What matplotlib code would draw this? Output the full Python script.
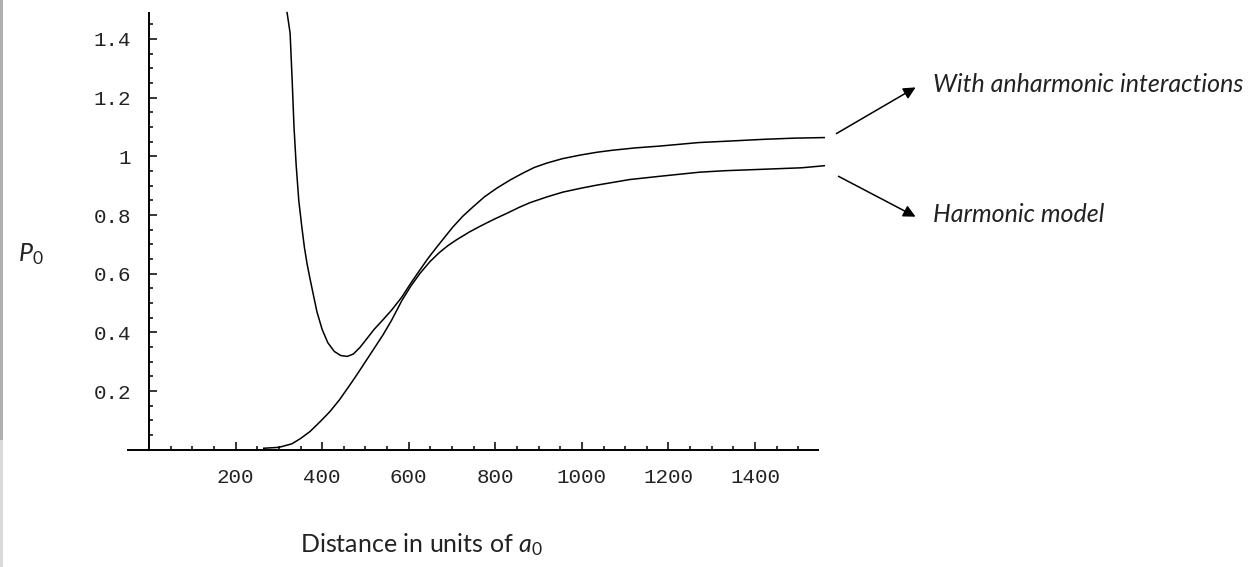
import numpy as np
import matplotlib
matplotlib.use('Agg')
import matplotlib.pyplot as plt
from matplotlib.ticker import FixedLocator, FuncFormatter
from matplotlib.patches import Rectangle

plt.rcParams['font.family'] = 'Lato'
plt.rcParams['mathtext.fontset'] = 'custom'
plt.rcParams['mathtext.it'] = 'Lato:italic'
plt.rcParams['mathtext.rm'] = 'Lato'

# Du lieu doc tu hinh (khoang cach, P0)
x_anh = [319, 326, 331, 335, 340, 346, 353, 359, 365, 371, 378, 388, 400, 413, 428,
         443, 458, 472, 487, 502, 520, 540, 560, 584, 605, 626, 645, 665, 685, 702,
         725, 748, 775, 804, 835, 864, 890, 919, 955, 995, 1035, 1072, 1125, 1180, 1270,
         1340, 1420, 1490, 1560]
y_anh = [1.49, 1.42, 1.25, 1.10, 0.97, 0.85, 0.76, 0.69, 0.635, 0.59, 0.54, 0.47, 0.41, 0.365, 0.335,
         0.321, 0.318, 0.326, 0.348, 0.376, 0.41, 0.442, 0.475, 0.52, 0.568, 0.613, 0.653, 0.691, 0.728, 0.759,
         0.796, 0.827, 0.862, 0.892, 0.92, 0.943, 0.962, 0.977, 0.992, 1.004, 1.014, 1.021, 1.029, 1.035, 1.047,
         1.052, 1.058, 1.062, 1.064]

x_harm = [265, 300, 330, 350, 372, 395, 418, 440, 460, 480, 500, 520, 540, 560, 584,
          605, 626, 649, 670, 690, 711, 740, 764, 795, 827, 855, 880, 920, 956, 1000,
          1035, 1075, 1111, 1180, 1272, 1330, 1420, 1508, 1560]
y_harm = [0.005, 0.008, 0.02, 0.038, 0.062, 0.095, 0.13, 0.17, 0.212, 0.255, 0.30, 0.345, 0.39, 0.44, 0.508,
          0.558, 0.601, 0.641, 0.671, 0.695, 0.716, 0.742, 0.761, 0.784, 0.806, 0.826, 0.842, 0.862, 0.878, 0.892,
          0.902, 0.912, 0.921, 0.932, 0.946, 0.951, 0.956, 0.961, 0.968]

x_major = [200, 400, 600, 800, 1000, 1200, 1400]
y_major = [0.2, 0.4, 0.6, 0.8, 1.0, 1.2, 1.4]

W, H = 1252, 567
fig = plt.figure(figsize=(W/100, H/100), dpi=100)

# vi tri truc theo pixel: x=0 -> 149px, 1400 -> 755px ; y=0 -> 449.7px, 1.4 -> 39px (tu tren xuong)
x0_px, sx = 149.0, (755.0 - 149.0) / 1400
y0_px, sy = 449.7, (449.7 - 39.0) / 1.4
L, R, T, B = 100.0, 900.0, 5.0, 470.0
ax = fig.add_axes([L/W, 1 - B/H, (R-L)/W, (B-T)/H])
ax.set_xlim((L - x0_px)/sx, (R - x0_px)/sx)
ax.set_ylim((y0_px - B)/sy, (y0_px - T)/sy)
ax.patch.set_visible(False)

ax.plot(x_anh, y_anh, color='black', lw=1.1, clip_on=False)
ax.plot(x_harm, y_harm, color='black', lw=1.1, clip_on=False)

for s in ['top', 'right']:
    ax.spines[s].set_visible(False)
ax.spines['left'].set_position(('data', 0))
ax.spines['bottom'].set_position(('data', 0))
ax.spines['left'].set_bounds(0, 1.49)
ax.spines['bottom'].set_bounds(-48, 1545)
for s in ['left', 'bottom']:
    ax.spines[s].set_linewidth(1.4)

ax.xaxis.set_major_locator(FixedLocator(x_major))
ax.xaxis.set_minor_locator(FixedLocator(np.arange(50, 1501, 50)))
ax.yaxis.set_major_locator(FixedLocator(y_major))
ax.yaxis.set_minor_locator(FixedLocator(np.arange(0.05, 1.46, 0.05)))
ax.yaxis.set_major_formatter(FuncFormatter(lambda v, p: f"{v:g}"))
ax.tick_params(which='both', direction='in', width=1.1, color='black')
ax.tick_params(which='major', length=5.5, pad=13, labelsize=15)
ax.tick_params(which='minor', length=3)
for lab in ax.get_xticklabels() + ax.get_yticklabels():
    lab.set_family('Liberation Mono')
    lab.set_color('#222222')

# nhan truc
fig.text(31/W, 1 - 254/H, r'$P_0$', fontsize=18, ha='center', va='center', color='#222222')
fig.text(300/W, 1 - 545/H, r'Distance in units of $a_0$', fontsize=18, ha='left', va='center',
         color='#222222')

# mui ten + chu thich
def fp(x, y):
    return (x/W, 1 - y/H)

ax.annotate('', xy=fp(918, 86), xytext=fp(834, 135), xycoords='figure fraction',
            textcoords='figure fraction',
            arrowprops=dict(arrowstyle='-|>', mutation_scale=18, lw=1.1, color='black'))
ax.annotate('', xy=fp(918, 218), xytext=fp(836, 175), xycoords='figure fraction',
            textcoords='figure fraction',
            arrowprops=dict(arrowstyle='-|>', mutation_scale=18, lw=1.1, color='black'))
fig.text(933/W, 1 - 84/H, 'With anharmonic interactions', fontsize=18, style='italic',
         ha='left', va='center', color='#222222')
fig.text(933/W, 1 - 214/H, 'Harmonic model', fontsize=18, style='italic',
         ha='left', va='center', color='#222222')

# vien xam ben trai (anh chup man hinh)
fig.patches.append(Rectangle((0, 1 - 440/H), 3/W, 440/H, transform=fig.transFigure,
                             color='#b0b0b0', lw=0))
fig.patches.append(Rectangle((0, 0), 3/W, 1 - 440/H, transform=fig.transFigure,
                             color='#dadada', lw=0))

plt.savefig('out.png', dpi=100)
